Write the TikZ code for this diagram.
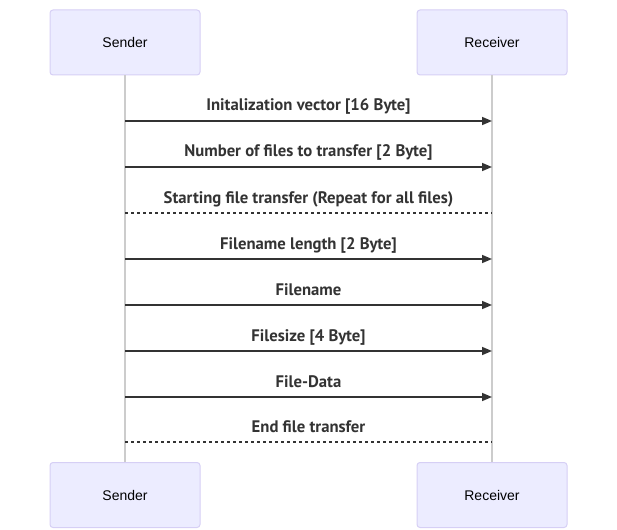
\documentclass[tikz,border=0pt]{standalone}
\usepackage{fontspec}
\setmainfont{Liberation Sans}
\newfontfamily\msgfont{PT Sans}
\usetikzlibrary{arrows.meta,calc}
\definecolor{boxfill}{HTML}{ECECFF}
\definecolor{boxline}{HTML}{D6CFF5}
\definecolor{msgline}{HTML}{333333}
\definecolor{lifeline}{HTML}{CCCCCC}
\tikzset{
  actor/.style={draw=boxline, fill=boxfill, line width=1pt, rounded corners=3pt,
    minimum width=150pt, minimum height=65pt, inner sep=0pt,
    font=\fontsize{14}{16}\selectfont, text=black},
  life/.style={draw=lifeline, line width=1.5pt},
  msg/.style={draw=msgline, line width=1.5pt, -{Triangle[length=10pt,width=8pt]}},
  dmsg/.style={draw=msgline, line width=1.5pt, dash pattern=on 3pt off 3pt},
  lbl/.style={font=\msgfont\bfseries\fontsize{16.7}{18}\selectfont, text=msgline, anchor=base, inner sep=0pt}
}
\begin{document}
\begin{tikzpicture}[x=1pt,y=-1pt]
\useasboundingbox (0,0) rectangle (617,529);
\node[actor] (s1) at (125,42.5) {Sender};
\node[actor] (r1) at (492,42.5) {Receiver};
\node[actor] (s2) at (125,495) {Sender};
\node[actor] (r2) at (492,495) {Receiver};
\draw[life] (s1.south) -- (s2.north);
\draw[life] (r1.south) -- (r2.north);
\foreach \y/\t/\st [count=\i] in {
  121/{Initalization vector [16 Byte]}/msg,
  167/{Number of files to transfer [2 Byte]}/msg,
  213/{Starting file transfer (Repeat for all files)}/dmsg,
  259/{Filename length [2 Byte]}/msg,
  305/{Filename}/msg,
  351/{Filesize [4 Byte]}/msg,
  397/{File-Data}/msg,
  442/{End file transfer}/dmsg}{
  \coordinate (a\i) at (s1.south |- 0,\y);
  \coordinate (b\i) at (r1.south |- 0,\y);
  \draw[\st] (a\i) -- (b\i);
  \node[lbl] (t\i) at ($ (a\i)!0.5!(b\i) + (0,-10) $) {\t};
}
\end{tikzpicture}
\end{document}
